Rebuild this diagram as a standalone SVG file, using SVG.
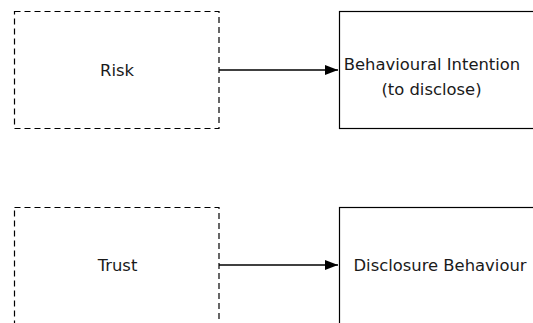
<svg xmlns="http://www.w3.org/2000/svg" width="533" height="323" viewBox="0 0 533 323">
<style>
.dash{fill:#fff;stroke:#000;stroke-width:1.2;stroke-dasharray:6 4}
.solid{fill:#fff;stroke:#000;stroke-width:1.2}
.edge{stroke:#000;stroke-width:1.3;fill:none}
text{font-family:"DejaVu Sans","Liberation Sans",sans-serif;font-size:16.4px;fill:#1a1a1a;text-anchor:middle}
</style>
<defs>
<marker id="ah" markerWidth="13" markerHeight="10" refX="13" refY="5" orient="auto" markerUnits="userSpaceOnUse">
<path d="M0,0 L13,5 L0,10 Z" fill="#000"/>
</marker>
</defs>
<rect width="533" height="323" fill="#fff"/>
<g id="risk">
<rect class="dash" x="14.5" y="11.5" width="204.5" height="117"/>
<text x="117" y="75.5">Risk</text>
</g>
<g id="intention">
<rect class="solid" x="339.5" y="11.5" width="210" height="117"/>
<text x="432" y="69.5">Behavioural Intention</text>
<text x="431.5" y="95">(to disclose)</text>
</g>
<g id="trust">
<rect class="dash" x="14.5" y="207.5" width="204.5" height="130"/>
<text x="117.5" y="271">Trust</text>
</g>
<g id="behaviour">
<rect class="solid" x="339.5" y="207.5" width="210" height="130"/>
<text x="440" y="271">Disclosure Behaviour</text>
</g>
<g id="connectors">
<line class="edge" x1="219" y1="70" x2="338" y2="70" marker-end="url(#ah)"/>
<line class="edge" x1="219" y1="265" x2="338" y2="265" marker-end="url(#ah)"/>
</g>
</svg>
